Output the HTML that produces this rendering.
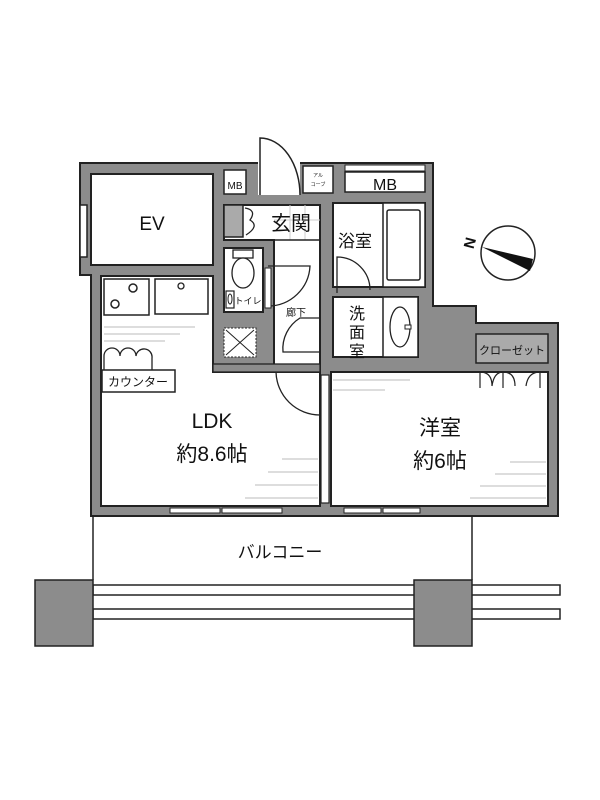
<!DOCTYPE html>
<html><head><meta charset="utf-8"><style>
body{margin:0;background:#fff}
svg{display:block}
text{font-family:"Liberation Sans","Noto Sans CJK JP",sans-serif;fill:#111}
</style></head><body>
<svg width="600" height="800" viewBox="0 0 600 800" xmlns="http://www.w3.org/2000/svg">
<rect width="600" height="800" fill="#fff"/>
<!-- outer grey mass -->
<path d="M80,163 H433 V306 H476 V323 H558 V516 H91 V275 H80 Z" fill="#8c8c8c" stroke="#222" stroke-width="2"/>
<!-- entry opening in top wall -->
<rect x="258" y="160" width="42" height="35" fill="#fff"/>
<path d="M260,195 V138 A40,57 0 0 1 300,195" fill="none" stroke="#222" stroke-width="1.5"/>
<!-- alcove -->
<rect x="303" y="166" width="30" height="27" fill="#fff" stroke="#222" stroke-width="1.5"/>
<text x="318" y="177" font-size="5" text-anchor="middle">アル</text>
<text x="318" y="186" font-size="5" text-anchor="middle">コーブ</text>
<!-- EV -->
<rect x="91" y="174" width="122" height="91" fill="#fff" stroke="#222" stroke-width="2"/>
<rect x="80" y="205" width="7" height="52" fill="#fff" stroke="#222" stroke-width="1.5"/>
<text x="152" y="230" font-size="19" text-anchor="middle">EV</text>
<!-- MB left -->
<rect x="224" y="170" width="22" height="24" fill="#fff" stroke="#222" stroke-width="1.5"/>
<text x="235" y="189" font-size="10" text-anchor="middle">MB</text>
<!-- MB right -->
<rect x="345" y="172" width="80" height="20" fill="#fff" stroke="#222" stroke-width="1.5"/>
<rect x="345" y="165" width="80" height="6" fill="#fff" stroke="#222" stroke-width="1"/>
<text x="385" y="190" font-size="16" text-anchor="middle">MB</text>
<!-- hallway + genkan -->
<path d="M224,205 H320 V372 H274 V240 H224 Z" fill="#fff" stroke="#222" stroke-width="2"/>
<rect x="224" y="205" width="19" height="32" fill="#aaa" stroke="#222" stroke-width="1.5"/>
<path d="M245,208 q12,2 5,12 q10,6 -4,15" fill="none" stroke="#222" stroke-width="1.3"/>
<g stroke="#ccc" stroke-width="1"><line x1="274" y1="220" x2="320" y2="220"/><line x1="290" y1="205" x2="290" y2="240"/><line x1="305" y1="205" x2="305" y2="240"/></g>
<line x1="274" y1="240" x2="320" y2="240" stroke="#222" stroke-width="1.5"/>
<text x="291" y="230" font-size="20" text-anchor="middle">玄関</text>
<!-- toilet -->
<rect x="224" y="248" width="39" height="64" fill="#fff" stroke="#222" stroke-width="2"/>
<rect x="233" y="250" width="20" height="8" fill="#fff" stroke="#222" stroke-width="1.3"/>
<ellipse cx="243" cy="273" rx="11" ry="15" fill="#fff" stroke="#222" stroke-width="1.3"/>
<rect x="226" y="291" width="8" height="17" fill="#fff" stroke="#222" stroke-width="1.2"/>
<ellipse cx="230" cy="299" rx="2" ry="5" fill="none" stroke="#222"/>
<text x="248" y="304" font-size="9" text-anchor="middle">トイレ</text>
<path d="M268,266 H310 A42,42 0 0 1 268,306" fill="none" stroke="#222" stroke-width="1.3"/>
<rect x="265" y="268" width="6" height="40" fill="#fff" stroke="#222"/>
<text x="296" y="316" font-size="10" text-anchor="middle">廊下</text>
<path d="M320,318 H300 A36,36 0 0 0 283,352 H320" fill="none" stroke="#222" stroke-width="1.3"/>
<!-- kitchen / LDK -->
<path d="M101,276 H213 V372 H320 V506 H101 Z" fill="#fff" stroke="#222" stroke-width="2"/>
<rect x="104" y="279" width="45" height="36" fill="#fff" stroke="#222" stroke-width="1.5"/>
<circle cx="133" cy="288" r="4" fill="none" stroke="#222" stroke-width="1.5"/>
<circle cx="115" cy="304" r="4" fill="none" stroke="#222" stroke-width="1.5"/>
<rect x="155" y="279" width="53" height="35" fill="#fff" stroke="#222" stroke-width="1.5"/>
<circle cx="181" cy="286" r="3" fill="none" stroke="#222" stroke-width="1.3"/>
<g stroke="#bbb" stroke-width="1"><line x1="104" y1="327" x2="195" y2="327"/><line x1="104" y1="334" x2="180" y2="334"/><line x1="104" y1="341" x2="165" y2="341"/></g>
<!-- PS -->
<rect x="218" y="322" width="50" height="42" fill="#8c8c8c"/>
<rect x="224" y="328" width="32" height="29" fill="#fff" stroke="#222" stroke-dasharray="2,1.5"/>
<path d="M226,330 L254,355 M254,330 L226,355" stroke="#222" stroke-width="1"/>
<rect x="213" y="364" width="107" height="8" fill="#8c8c8c" stroke="#222" stroke-width="1.3"/>
<!-- counter -->
<path d="M104,370 V356 A8,8 0 0 1 120,356 A8,8 0 0 1 136,356 A8,8 0 0 1 152,358 V370" fill="none" stroke="#222" stroke-width="1.3"/>
<rect x="102" y="370" width="73" height="22" fill="#fff" stroke="#222" stroke-width="1.5"/>
<text x="138" y="386" font-size="12" text-anchor="middle">カウンター</text>
<!-- LDK door -->
<path d="M276,372 A44,44 0 0 0 320,415 V372" fill="none" stroke="#222" stroke-width="1.3"/>
<g stroke="#bbb" stroke-width="1"><line x1="245" y1="498" x2="318" y2="498"/><line x1="255" y1="485" x2="318" y2="485"/><line x1="268" y1="472" x2="318" y2="472"/><line x1="282" y1="459" x2="318" y2="459"/></g>
<text x="212" y="428" font-size="21" text-anchor="middle">LDK</text>
<text x="212" y="461" font-size="21" text-anchor="middle">約8.6帖</text>
<rect x="170" y="508" width="50" height="5" fill="#fff" stroke="#222"/>
<rect x="222" y="508" width="60" height="5" fill="#fff" stroke="#222"/>
<!-- Western room -->
<rect x="331" y="372" width="217" height="134" fill="#fff" stroke="#222" stroke-width="2"/>
<rect x="321" y="375" width="8" height="128" fill="#fff" stroke="#222" stroke-width="1.2"/>
<g stroke="#bbb" stroke-width="1"><line x1="333" y1="380" x2="410" y2="380"/><line x1="333" y1="390" x2="385" y2="390"/><line x1="470" y1="498" x2="546" y2="498"/><line x1="480" y1="486" x2="546" y2="486"/><line x1="495" y1="474" x2="546" y2="474"/><line x1="510" y1="462" x2="546" y2="462"/></g>
<text x="440" y="435" font-size="21" text-anchor="middle">洋室</text>
<text x="440" y="468" font-size="21" text-anchor="middle">約6帖</text>
<rect x="344" y="508" width="37" height="5" fill="#fff" stroke="#222"/>
<rect x="383" y="508" width="37" height="5" fill="#fff" stroke="#222"/>
<!-- closet -->
<rect x="476" y="334" width="72" height="29" fill="#aaa" stroke="#222" stroke-width="1.5"/>
<text x="512" y="354" font-size="11" text-anchor="middle">クローゼット</text>
<path d="M480,388 V372 Q492,372 492,386 M503,388 V372 Q494,372 492,386 M503,388 V372 Q515,372 515,386 M540,388 V372 Q528,372 526,386" fill="none" stroke="#222" stroke-width="1.2"/>
<!-- bath -->
<rect x="333" y="203" width="92" height="84" fill="#fff" stroke="#222" stroke-width="2"/>
<rect x="383" y="203" width="42" height="84" fill="#fff" stroke="#222" stroke-width="1.5"/>
<rect x="387" y="210" width="33" height="70" rx="2" fill="#fff" stroke="#222" stroke-width="1.5"/>
<text x="355" y="247" font-size="17" text-anchor="middle">浴室</text>
<path d="M337,293 V257 A33,33 0 0 1 370,290" fill="none" stroke="#222" stroke-width="1.3"/>
<!-- washroom -->
<rect x="333" y="297" width="85" height="60" fill="#fff" stroke="#222" stroke-width="2"/>
<rect x="383" y="297" width="35" height="60" fill="#fff" stroke="#222" stroke-width="1.5"/>
<ellipse cx="400" cy="327" rx="10" ry="20" fill="none" stroke="#222" stroke-width="1.3"/>
<rect x="405" y="325" width="6" height="4" fill="#fff" stroke="#222"/>
<text x="357" y="319" font-size="16" text-anchor="middle">洗</text>
<text x="357" y="338" font-size="16" text-anchor="middle">面</text>
<text x="357" y="357" font-size="16" text-anchor="middle">室</text>
<!-- compass -->
<circle cx="508" cy="253" r="27" fill="#fff" stroke="#222" stroke-width="1.5"/>
<path d="M482,247 L533,259 L530,271 Z" fill="#111"/>
<text x="470" y="248" font-size="15" font-weight="bold" transform="rotate(-75 470 243)" text-anchor="middle">N</text>
<!-- balcony -->
<line x1="93" y1="516" x2="93" y2="580" stroke="#222" stroke-width="1.5"/>
<line x1="472" y1="516" x2="472" y2="580" stroke="#222" stroke-width="1.5"/>
<text x="280" y="558" font-size="17" text-anchor="middle">バルコニー</text>
<rect x="93" y="585" width="467" height="10" fill="#fff" stroke="#222" stroke-width="1.5"/>
<rect x="93" y="609" width="467" height="10" fill="#fff" stroke="#222" stroke-width="1.5"/>
<rect x="35" y="580" width="58" height="66" fill="#8c8c8c" stroke="#222" stroke-width="1.5"/>
<rect x="414" y="580" width="58" height="66" fill="#8c8c8c" stroke="#222" stroke-width="1.5"/>
</svg>
</body></html>
